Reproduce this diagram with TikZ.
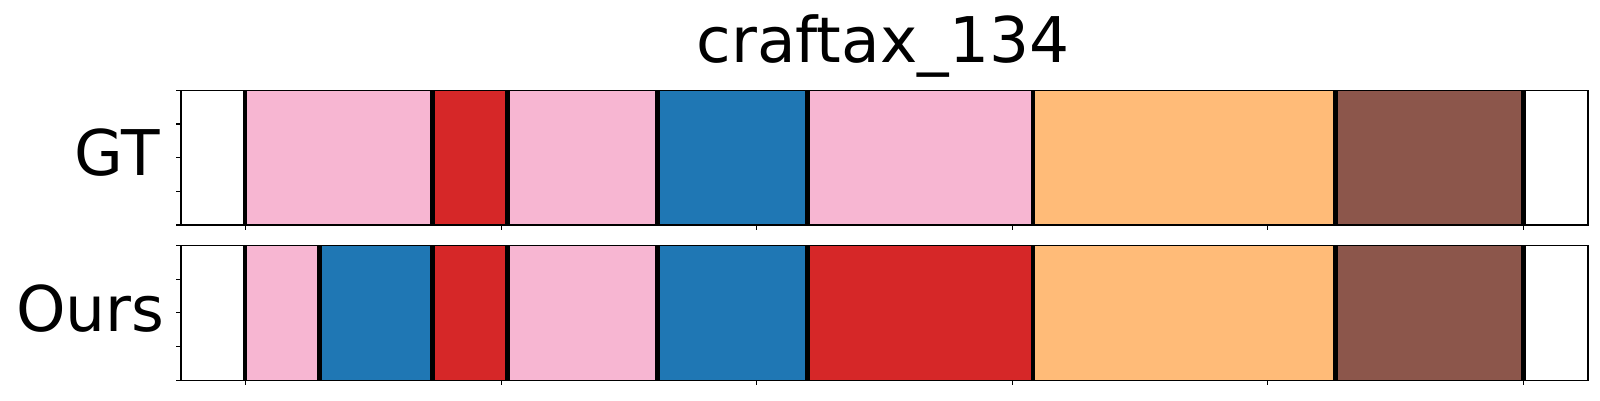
\documentclass[tikz,border=0pt]{standalone}
\usepackage{fontspec}
\setmainfont{DejaVu Sans}
\definecolor{segpink}{RGB}{247,182,210}
\definecolor{segred}{RGB}{214,39,40}
\definecolor{segblue}{RGB}{31,119,180}
\definecolor{segorange}{RGB}{255,187,120}
\definecolor{segbrown}{RGB}{140,86,75}
\tikzset{
  bigtext/.style={inner sep=0pt,font=\fontsize{63}{63}\selectfont},
  frame/.style={line width=1.1pt},
  bound/.style={line width=4.5pt,black},
  tickmark/.style={line width=1.1pt}
}
\begin{document}
\begin{tikzpicture}[x=1pt,y=1pt,line cap=butt]
\useasboundingbox (0,0) rectangle (1600,400);
%% rows
\path (181,175)coordinate(gtSW) (1588,309.7)coordinate(gtNE)
      (181,19.7)coordinate(ouSW) (1588,154.7)coordinate(ouNE);
%% GT segments
\foreach \s/\e/\c in {245/432.7/segpink,432.7/507.7/segred,507.7/657.7/segpink,657.7/807.7/segblue,807.7/1033/segpink,1033/1335.4/segorange,1335.4/1523.5/segbrown}{
  \fill[\c] (\s,175) rectangle (\e,309.7);
}
%% Ours segments
\foreach \s/\e/\c in {245/319.7/segpink,319.7/432.7/segblue,432.7/507.7/segred,507.7/657.7/segpink,657.7/807.7/segblue,807.7/1033/segred,1033/1335.4/segorange,1335.4/1523.5/segbrown}{
  \fill[\c] (\s,19.7) rectangle (\e,154.7);
}
%% boundaries
\foreach \b in {245,432.7,507.7,657.7,807.7,1033,1335.4,1523.5}{
  \draw[bound] (\b,175)--(\b,309.7);
}
\foreach \b in {245,319.7,432.7,507.7,657.7,807.7,1033,1335.4,1523.5}{
  \draw[bound] (\b,19.7)--(\b,154.7);
}
%% frames
\draw[frame] (gtSW) rectangle (gtNE);
\draw[frame] (ouSW) rectangle (ouNE);
%% ticks
\foreach \k in {0,...,4}{
  \draw[tickmark] (181,175+\k*33.675)--++(-5,0);
  \draw[tickmark] (181,19.7+\k*33.75)--++(-5,0);
}
\foreach \k in {0,...,5}{
  \draw[tickmark] (245.7+\k*255.5,175)--++(0,-5);
  \draw[tickmark] (245.7+\k*255.5,19.7)--++(0,-5);
}
%% labels
\node[bigtext,anchor=base] (title) at (883,337.7) {craftax\_134};
\node[bigtext,anchor=base east] (gt) at (160,225) {GT};
\node[bigtext,anchor=base east] (ours) at (164.5,69) {Ours};
\end{tikzpicture}
\end{document}
